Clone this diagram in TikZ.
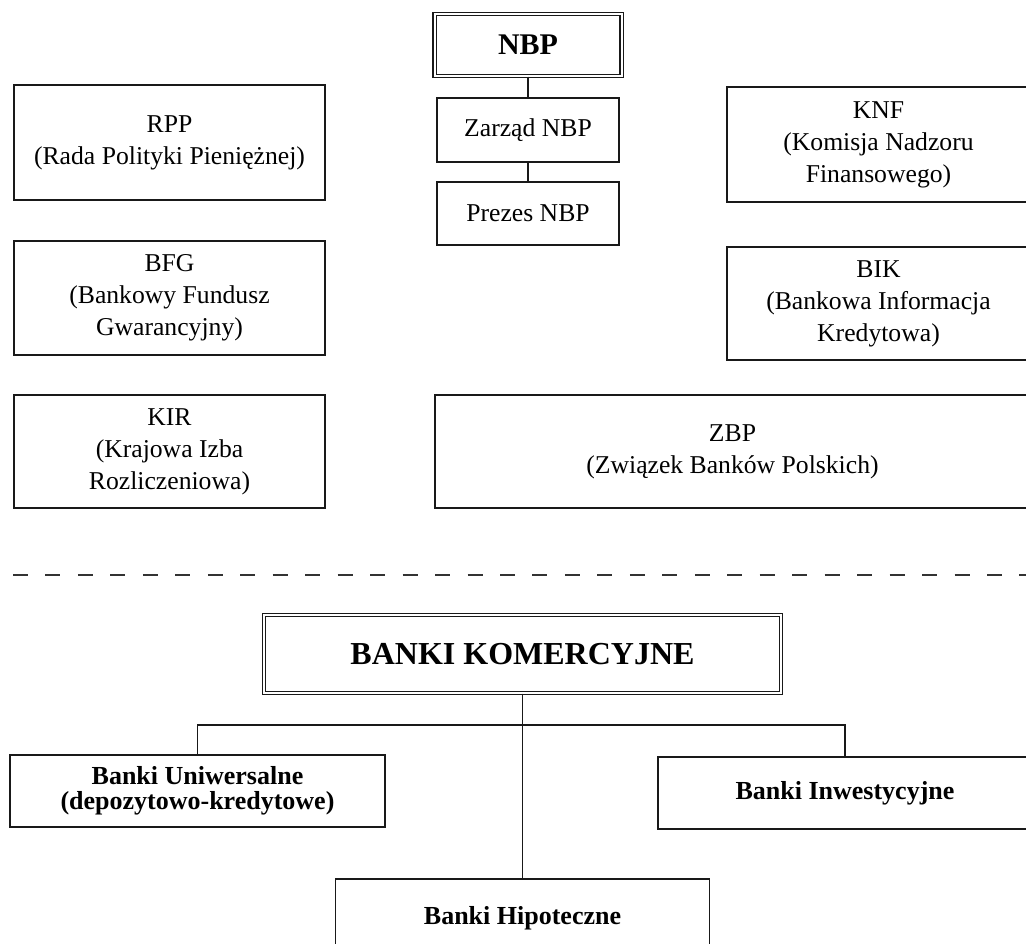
\documentclass[tikz,border=0pt]{standalone}
\usepackage{fontspec}
\setmainfont{Liberation Serif}
\begin{document}
\begin{tikzpicture}[x=0.75pt,y=-0.75pt,
  box/.style={draw=black!90, line width=1.3pt, rectangle, inner sep=0pt, align=center,
    font=\fontsize{19.25pt}{24pt}\selectfont},
  dbox/.style={draw=black!90, double, double distance=1.5pt, line width=1pt, rectangle,
    inner sep=0pt, align=center},
  bbox/.style={box, font=\bfseries\fontsize{19.5pt}{18.75pt}\selectfont},
  conn/.style={draw=black!90, line width=1.2pt},
  sep/.style={draw=black!80, line width=1.4pt, dash pattern=on 11.25pt off 13.1pt}]
\useasboundingbox (0,0) rectangle (1026,944);
\clip (0,0) rectangle (1026,944);
% top part
\node[dbox, minimum width=187*0.75pt, minimum height=62*0.75pt,
  font=\bfseries\fontsize{22.5pt}{24pt}\selectfont] (nbp) at (528,45) {NBP};
\node[box, minimum width=182*0.75pt, minimum height=64*0.75pt] (zarzad) at (528,130) {Zarząd NBP};
\node[box, minimum width=182*0.75pt, minimum height=63*0.75pt] (prezes) at (528,213.5) {Prezes NBP};
\node[box, minimum width=311*0.75pt, minimum height=115*0.75pt] (rpp) at (169.5,142.5) {RPP\\(Rada Polityki Pieniężnej)};
\node[box, minimum width=303*0.75pt, minimum height=115*0.75pt] (knf) at (878.5,144.5) {KNF\\(Komisja Nadzoru\\Finansowego)};
\node[box, minimum width=311*0.75pt, minimum height=114*0.75pt] (bfg) at (169.5,298) {BFG\\(Bankowy Fundusz\\Gwarancyjny)};
\node[box, minimum width=303*0.75pt, minimum height=113*0.75pt] (bik) at (878.5,303.5) {BIK\\(Bankowa Informacja\\Kredytowa)};
\node[box, minimum width=311*0.75pt, minimum height=113*0.75pt] (kir) at (169.5,451.5) {KIR\\(Krajowa Izba\\Rozliczeniowa)};
\node[box, minimum width=595*0.75pt, minimum height=113*0.75pt] (zbp) at (732.5,451.5) {ZBP\\(Związek Banków Polskich)};
\draw[conn] (nbp) -- (zarzad);
\draw[conn] (zarzad) -- (prezes);
% separator
\coordinate (sepL) at (13,575);
\coordinate (sepR) at (1030,575);
\draw[sep] (sepL) -- (sepR);
% bottom part
\node[dbox, minimum width=517*0.75pt, minimum height=78*0.75pt,
  font=\bfseries\fontsize{24pt}{26pt}\selectfont] (bk) at (522.5,654) {BANKI KOMERCYJNE};
\node[bbox, minimum width=375*0.75pt, minimum height=72*0.75pt] (uni) at (197.5,791) {Banki Uniwersalne\\(depozytowo-kredytowe)};
\node[bbox, minimum width=374*0.75pt, minimum height=72*0.75pt] (inw) at (845,793) {Banki Inwestycyjne};
\node[bbox, minimum width=374*0.75pt, minimum height=78*0.75pt] (hip) at (522.5,918) {Banki Hipoteczne};
\draw[conn] (bk.south) -- (hip.north);
\draw[conn] (uni.north) |- (bk.south |- 0,725) -| (inw.north);
\end{tikzpicture}
\end{document}
